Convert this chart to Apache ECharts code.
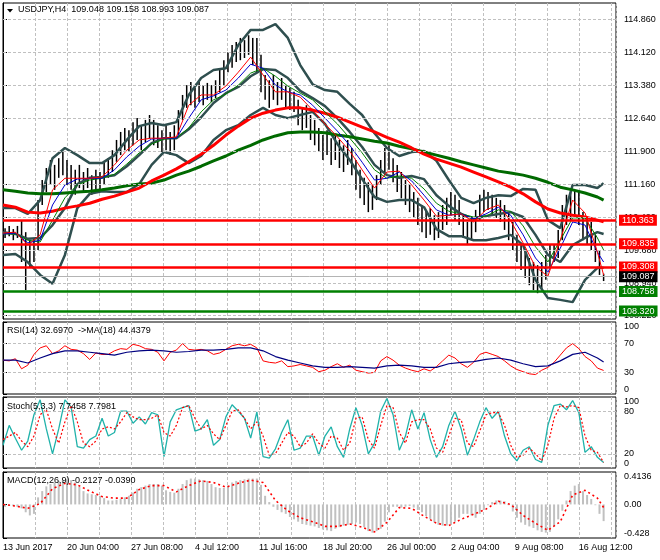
<!DOCTYPE html>
<html><head><meta charset="utf-8">
<script src="https://cdn.jsdelivr.net/npm/echarts@6/dist/echarts.min.js"></script>
<style>html,body{margin:0;padding:0;background:#fff}#c{width:660px;height:560px}</style>
</head><body><div id="c"></div>
<script>
// ---------------- data ----------------
const symbolTitle = 'USDJPY,H4  109.048 109.158 108.993 109.087';
const rsiTitle = 'RSI(14) 32.6970  ->MA(18) 44.4379';
const stochTitle = 'Stoch(5,3,3) 7.7458 7.7981';
const macdTitle = 'MACD(12,26,9) -0.2127 -0.0390';

const dateLabels = ['13 Jun 2017','20 Jun 04:00','27 Jun 08:00','4 Jul 12:00','11 Jul 16:00','18 Jul 20:00','26 Jul 00:00','2 Aug 04:00','9 Aug 08:00','16 Aug 12:00'];
const BARS_PER_LABEL = 31;
const LAST_BAR = 291;

const priceTicks = [114.86,114.12,113.38,112.64,111.90,111.16,110.42,109.68,108.94,108.22];
const rsiTicks = [0,30,70,100];
const rsiLevels = [70,30];
const stochTicks = [0,20,80,100];
const stochLevels = [80,20];
const macdTicks = [-0.428,0,0.4136];

const redLevels = [110.363,109.835,109.308];
const greenLevels = [108.758,108.320];
const bidPrice = 109.087;

// price bars: one bar every 2 H4 bars, starting at bar 1
const barHigh = [110.18,110.23,110.16,110.23,110.34,110.09,109.91,109.96,110.81,111.26,
111.53,111.71,111.60,111.75,111.89,111.71,111.60,111.49,111.60,111.44,
111.53,111.37,111.49,111.44,111.67,111.75,111.93,112.16,112.34,112.43,
112.38,112.56,112.65,112.49,112.61,112.72,112.61,112.49,112.38,112.49,
112.34,112.49,112.83,113.17,113.39,113.46,113.33,113.46,113.39,113.44,
113.39,113.50,113.73,113.95,114.13,114.29,114.36,114.45,114.40,114.51,
114.45,114.45,114.07,113.62,113.50,113.62,113.46,113.55,113.39,113.33,
113.24,113.06,112.88,112.94,112.72,112.61,112.43,112.27,112.38,112.20,
112.27,112.16,112.04,112.16,111.98,111.71,111.49,111.31,111.21,111.15,
111.37,111.71,111.98,112.04,111.75,111.60,111.44,111.26,111.15,110.99,
110.86,110.70,110.59,110.63,110.47,110.54,110.70,110.86,110.99,110.93,
110.81,110.47,110.32,110.41,110.59,110.93,111.04,110.99,110.93,110.86,
110.81,110.70,110.54,110.32,110.03,109.80,109.69,109.51,109.42,109.35,
109.42,109.58,109.80,109.80,110.14,110.70,110.93,110.99,111.04,110.99,
110.54,110.41,110.32,110.03,109.69,109.158];
const barLow = [109.96,110.00,109.91,109.96,109.42,108.79,109.29,109.42,109.69,110.70,
110.99,111.15,111.04,111.31,111.37,111.15,111.04,110.93,111.08,110.97,
111.08,110.93,110.99,111.04,111.17,111.31,111.44,111.67,111.82,111.93,
111.89,112.04,112.16,111.93,112.11,112.20,112.04,111.98,111.89,111.93,
111.82,111.93,112.27,112.61,112.88,112.94,112.88,113.01,112.94,113.06,
113.01,113.10,113.23,113.39,113.68,113.78,113.91,113.95,114.00,114.07,
113.84,113.68,113.23,113.06,112.88,113.06,112.94,113.06,112.88,112.83,
112.79,112.49,112.38,112.43,112.16,112.04,111.89,111.71,111.82,111.60,
111.71,111.53,111.44,111.60,111.37,111.04,110.85,110.70,110.54,110.59,
110.81,111.15,111.37,111.49,111.21,110.99,110.85,110.70,110.54,110.41,
110.25,110.09,109.96,110.03,109.91,109.96,110.14,110.25,110.47,110.36,
110.25,109.96,109.80,109.91,110.09,110.36,110.54,110.59,110.47,110.41,
110.32,110.14,109.91,109.69,109.42,109.24,109.06,108.90,108.79,108.72,
108.79,109.02,109.29,109.42,109.51,109.91,110.25,110.36,110.47,110.25,
109.91,109.80,109.69,109.42,109.13,108.993];

// indicator lines on price: one value every 6 bars (last = last bar)
const bbUpper = [110.63,110.63,110.50,110.81,111.75,111.98,111.82,111.64,111.64,111.82,
112.16,112.47,112.54,112.49,112.56,113.17,113.55,113.73,113.77,114.29,
114.63,114.63,114.76,114.45,113.84,113.41,113.28,113.24,112.97,112.72,
112.31,111.98,111.80,111.89,111.91,111.69,111.26,110.86,110.74,110.86,
110.92,110.90,111.06,111.04,110.36,110.18,111.15,111.15,111.08,111.19];
const bbMiddle = [110.09,110.05,109.94,109.96,110.25,110.63,111.17,111.31,111.33,111.37,
111.57,111.82,112.09,112.20,112.20,112.40,112.67,112.99,113.21,113.35,
113.59,113.75,113.73,113.55,113.26,113.10,112.92,112.65,112.34,112.00,
111.60,111.37,111.31,111.35,111.28,110.92,110.68,110.50,110.39,110.45,
110.50,110.54,110.43,110.03,109.58,109.42,109.80,109.96,110.09,110.05];
const bbLower = [109.58,109.60,109.42,109.13,108.93,109.58,110.63,110.95,111.01,110.99,
110.99,111.17,111.60,111.89,111.82,111.64,111.80,112.16,112.38,112.49,
112.72,112.88,112.72,112.65,112.72,112.79,112.52,112.07,111.71,111.28,
110.88,110.77,110.81,110.81,110.65,110.16,110.00,110.00,109.91,109.91,
109.96,110.03,109.80,109.02,108.61,108.57,108.52,109.02,109.29,109.29];
const maSlowGreen = [111.04,111.01,110.97,110.95,110.95,110.97,110.99,111.01,111.04,111.08,
111.13,111.17,111.19,111.26,111.37,111.46,111.57,111.69,111.80,111.93,
112.04,112.16,112.25,112.32,112.34,112.34,112.32,112.27,112.23,112.18,
112.13,112.09,112.02,111.96,111.89,111.82,111.75,111.67,111.60,111.53,
111.46,111.42,111.37,111.30,111.21,111.10,111.04,110.97,110.88,110.81];
const maSlowRed = [110.70,110.65,110.54,110.52,110.56,110.63,110.68,110.74,110.83,110.90,
110.99,111.08,111.24,111.37,111.51,111.67,111.84,112.04,112.27,112.47,
112.65,112.76,112.83,112.88,112.88,112.83,112.76,112.67,112.56,112.45,
112.34,112.22,112.11,111.98,111.84,111.73,111.64,111.55,111.44,111.33,
111.22,111.10,110.95,110.77,110.61,110.52,110.47,110.43,110.36,110.32];
const maFastRed = [110.07,110.09,109.80,110.03,111.04,111.30,111.30,111.30,111.33,111.60,
111.93,112.16,112.20,112.20,112.23,112.94,113.17,113.17,113.37,113.68,
114.02,113.62,113.24,113.24,113.12,112.83,112.52,112.23,111.91,111.49,
111.08,111.44,111.46,111.15,110.81,110.45,110.47,110.50,110.32,110.59,
110.70,110.34,109.85,109.31,109.10,109.91,110.81,110.52,109.64,109.13];
const maFastBlue = [110.05,110.07,109.85,109.91,110.70,111.15,111.28,111.30,111.30,111.49,
111.78,112.02,112.18,112.20,112.20,112.65,113.06,113.15,113.28,113.55,
113.86,113.77,113.39,113.24,113.17,112.94,112.65,112.36,112.04,111.66,
111.26,111.30,111.44,111.24,110.92,110.59,110.47,110.50,110.39,110.50,
110.65,110.47,110.03,109.51,109.19,109.73,110.32,110.25,109.64,109.42];
const maFastGreen = [110.05,110.05,109.91,109.87,110.36,110.86,111.15,111.26,111.30,111.39,
111.62,111.87,112.07,112.18,112.20,112.43,112.79,113.06,113.19,113.39,
113.66,113.77,113.59,113.37,113.21,113.06,112.79,112.52,112.20,111.87,
111.49,111.30,111.35,111.30,111.06,110.74,110.56,110.50,110.43,110.45,
110.59,110.56,110.23,109.76,109.42,109.91,110.41,110.41,109.96,109.69];

// oscillators: one value every 3 bars
const rsiValues = [47,46,49,35,40,55,64,67,56,60,
67,62,61,56,48,57,55,55,60,63,
62,69,67,63,62,58,46,58,61,70,
62,61,62,60,55,57,62,67,69,67,
69,64,46,44,43,46,38,39,41,39,
37,31,33,38,42,37,40,33,31,29,
30,46,52,47,40,36,33,31,35,32,
38,46,54,50,42,37,44,55,58,55,
52,46,39,34,31,28,27,33,37,44,
54,64,70,63,52,46,36,32.697];
const stochMain = [32,60,42,25,38,75,96,55,20,55,
96,86,30,28,40,45,70,45,50,80,
80,63,72,62,78,75,16,65,82,85,
88,52,55,68,32,40,72,89,80,70,
42,79,16,14,27,50,68,25,28,45,
45,18,45,58,30,15,55,85,60,20,
35,80,98,75,25,45,82,55,78,40,
15,30,60,80,55,18,40,65,85,70,
80,45,20,10,25,30,12,8,60,88,
90,82,95,78,22,30,15,7.7458];
const stochSignal = [40,45,50,38,30,45,75,82,55,35,
65,88,65,35,30,38,55,58,55,65,
78,72,68,68,70,75,50,45,60,85,
88,70,55,60,48,40,60,80,82,70,
55,65,45,18,20,35,50,45,30,35,
48,35,28,45,42,25,35,70,72,40,
28,60,88,85,50,35,65,68,68,55,
28,22,45,70,68,35,30,52,75,78,
78,60,32,15,18,28,20,10,32,70,
88,86,88,85,45,25,22,7.7981];
// every 6 bars
const rsiMA = [47,47,43,50,56,60,60,58,56,54,
58,60,61,60,58,59,61,61,62,64,
64,60,52,47,43,39,37,37,38,37,
36,39,40,39,37,37,42,44,45,48,
50,47,42,38,39,46,55,58,50,44.4379];
const macdSignal = [0.00,-0.02,-0.05,0.01,0.20,0.27,0.25,0.17,0.10,0.08,
0.08,0.19,0.24,0.24,0.16,0.24,0.30,0.28,0.22,0.27,
0.31,0.28,0.05,-0.08,-0.17,-0.22,-0.28,-0.28,-0.25,-0.29,
-0.35,-0.23,-0.04,-0.05,-0.15,-0.24,-0.27,-0.19,-0.125,-0.06,
0.04,0.00,-0.14,-0.24,-0.33,-0.22,0.12,0.18,0.08,-0.039];
// every 2 bars (same positions as price bars)
const macdHist = [-0.03,-0.02,-0.02,-0.03,-0.05,-0.10,-0.14,-0.12,0.09,0.17,
0.23,0.26,0.28,0.30,0.31,0.32,0.31,0.28,0.23,0.17,
0.14,0.13,0.12,0.11,0.08,0.05,0.05,0.06,0.07,0.09,
0.11,0.15,0.20,0.22,0.24,0.26,0.26,0.26,0.24,0.18,
0.16,0.15,0.20,0.26,0.31,0.33,0.33,0.32,0.31,0.30,
0.26,0.22,0.21,0.21,0.24,0.28,0.30,0.31,0.32,0.33,
0.33,0.33,0.25,0.11,0.03,-0.03,-0.07,-0.10,-0.12,-0.16,
-0.19,-0.22,-0.25,-0.26,-0.27,-0.28,-0.30,-0.32,-0.33,-0.34,
-0.31,-0.29,-0.27,-0.26,-0.25,-0.23,-0.25,-0.29,-0.34,-0.36,
-0.34,-0.31,-0.22,-0.10,-0.03,-0.03,-0.04,-0.03,-0.02,-0.04,
-0.07,-0.10,-0.15,-0.19,-0.23,-0.26,-0.27,-0.27,-0.25,-0.22,
-0.17,-0.12,-0.12,-0.14,-0.17,-0.12,-0.07,-0.01,0.03,0.05,
0.05,0.04,-0.01,-0.09,-0.17,-0.23,-0.26,-0.28,-0.30,-0.33,
-0.35,-0.36,-0.35,-0.28,-0.19,-0.08,0.05,0.17,0.24,0.26,
0.17,0.12,0.07,-0.01,-0.12,-0.2127];

// ---------------- build ----------------
const FONT = 'Liberation Sans, Arial, sans-serif';
const barIdx = k => 1 + 2 * k;
const idx6 = m => Math.min(6 * m, LAST_BAR);
const idx3 = j => Math.min(3 * j, LAST_BAR);
const line6 = arr => arr.map((v, m) => [idx6(m), v]);
const line3 = arr => arr.map((v, j) => [idx3(j), v]);

const GRID_L = 3, GRID_W = 613;
const grids = [
  {left: GRID_L, width: GRID_W, top: 3, height: 316},
  {left: GRID_L, width: GRID_W, top: 322, height: 72},
  {left: GRID_L, width: GRID_W, top: 397, height: 71},
  {left: GRID_L, width: GRID_W, top: 472, height: 66}
].map(g => Object.assign(g, {show: true, borderColor: '#000', borderWidth: 1, backgroundColor: '#fff'}));

const xAxes = grids.map((g, i) => ({
  gridIndex: i, type: 'value', min: 0, max: 297, interval: 15.5,
  axisLine: {show: false}, axisTick: {show: false},
  axisLabel: {
    show: i === 3, align: 'left', margin: 5, color: '#000', fontSize: 9, fontFamily: FONT,
    formatter: v => { const q = v / BARS_PER_LABEL, r = Math.round(q); return (Math.abs(q - r) < 1e-6 && dateLabels[r]) ? dateLabels[r] : ''; }
  },
  splitLine: {show: true, lineStyle: {color: '#c0c0c0', type: [3, 2], width: 1}}
}));

function yAx(i, min, max, ticks, fmt) {
  return {
    gridIndex: i, type: 'value', position: 'right', min, max, scale: true,
    axisLine: {show: true, lineStyle: {color: '#000'}},
    axisTick: {show: true, length: 4, customValues: ticks, lineStyle: {color: '#000'}},
    axisLabel: {customValues: ticks, formatter: fmt, margin: 8, color: '#000', fontSize: 9, fontFamily: FONT,
      verticalAlignMinLabel: i === 0 ? 'middle' : 'bottom', verticalAlignMaxLabel: i === 0 ? 'middle' : 'top'},
    splitLine: {show: false}
  };
}
const yAxes = [
  yAx(0, 108.141, 115.234, priceTicks, v => v.toFixed(3)),
  yAx(1, 0, 100, rsiTicks, v => String(v)),
  yAx(2, 0, 100, stochTicks, v => String(v)),
  yAx(3, -0.428, 0.4136, macdTicks, v => v === 0 ? '0.00' : String(v))
];

function ln(name, grid, data, color, width, type, z) {
  return {name, type: 'line', xAxisIndex: grid, yAxisIndex: grid, data, showSymbol: false, symbol: 'none',
    silent: true, z: z || 3, lineStyle: {color, width, type: type || 'solid'}, emphasis: {disabled: true}};
}
function guides(grid, values) {
  return {type: 'line', xAxisIndex: grid, yAxisIndex: grid, data: [], z: 1, silent: true,
    markLine: {silent: true, symbol: ['none', 'none'], animation: false, label: {show: false},
      lineStyle: {color: '#c0c0c0', type: [3, 2], width: 1},
      data: values.map(v => ({yAxis: v}))}};
}
function tag(bg, v) {
  const txt = v.toFixed(3);
  return {show: true, position: 'end', distance: 3, formatter: () => txt,
    color: '#fff', backgroundColor: bg, padding: [1, 3, 0, 3], fontSize: 9, fontFamily: FONT, lineHeight: 10};
}

const levelLines = []
  .concat(redLevels.map(v => ({yAxis: v, lineStyle: {color: '#ff0000', width: 2.5, type: 'solid'}, label: tag('#ff0000', v)})))
  .concat(greenLevels.map(v => ({yAxis: v, lineStyle: {color: '#008000', width: 2.5, type: 'solid'}, label: tag('#008000', v)})))
  .concat([{yAxis: bidPrice, lineStyle: {color: '#b4b4b4', width: 1, type: 'solid'}, label: tag('#000000', bidPrice)}]);

const series = [
  guides(0, priceTicks),
  {
    type: 'custom', xAxisIndex: 0, yAxisIndex: 0, z: 2, silent: true,
    data: barHigh.map((h, k) => [barIdx(k), h, barLow[k]]),
    encode: {x: 0, y: [1, 2]},
    renderItem: (params, api) => {
      const a = api.coord([api.value(0), api.value(1)]);
      const b = api.coord([api.value(0), api.value(2)]);
      return {type: 'line', shape: {x1: a[0], y1: a[1], x2: b[0], y2: b[1]}, style: {stroke: '#000', lineWidth: 1.5}};
    }
  },
  ln('bbU', 0, line6(bbUpper), '#2f4f4f', 2.5),
  ln('bbM', 0, line6(bbMiddle), '#2f4f4f', 2.5),
  ln('bbL', 0, line6(bbLower), '#2f4f4f', 2.5),
  ln('maG', 0, line6(maSlowGreen), '#006a00', 3),
  ln('maR', 0, line6(maSlowRed), '#ff0000', 3),
  ln('fG', 0, line6(maFastGreen), '#008000', 1, 'solid', 4),
  ln('fB', 0, line6(maFastBlue), '#0000cd', 1, 'solid', 4),
  ln('fR', 0, line6(maFastRed), '#ff0000', 1, 'solid', 4),
  {type: 'line', xAxisIndex: 0, yAxisIndex: 0, data: [], z: 5, silent: true,
    markLine: {silent: true, symbol: ['none', 'none'], animation: false, data: levelLines}},

  guides(1, rsiLevels),
  ln('rsi', 1, line3(rsiValues), '#ff0000', 1),
  ln('rsiMA', 1, line6(rsiMA), '#000080', 1.2),

  guides(2, stochLevels),
  ln('stM', 2, line3(stochMain), '#20b2aa', 1.3),
  ln('stS', 2, line3(stochSignal), '#ff0000', 1.2, [2, 2]),

  {type: 'bar', xAxisIndex: 3, yAxisIndex: 3, data: macdHist.map((v, k) => [barIdx(k), v]),
    barWidth: 2, silent: true, z: 2, itemStyle: {color: '#c0c0c0'}},
  ln('macdS', 3, line6(macdSignal), '#ff0000', 1.6, [2, 3])
];

const textStyle = (t, x, y) => ({type: 'text', x, y, z: 100,
  style: {text: t, fill: '#000', font: '9px ' + FONT, verticalAlign: 'middle', align: 'left'}});

const chart = echarts.init(document.getElementById('c'), null, {renderer: 'canvas'});
chart.setOption({
  animation: false,
  backgroundColor: '#fff',
  grid: grids, xAxis: xAxes, yAxis: yAxes, series,
  graphic: [
    {type: 'polygon', z: 100, shape: {points: [[7, 9], [13, 9], [10, 12.5]]}, style: {fill: '#000'}},
    textStyle(symbolTitle, 18, 10),
    textStyle(rsiTitle, 7, 331),
    textStyle(stochTitle, 7, 407),
    textStyle(macdTitle, 7, 481)
  ]
});
</script></body></html>
